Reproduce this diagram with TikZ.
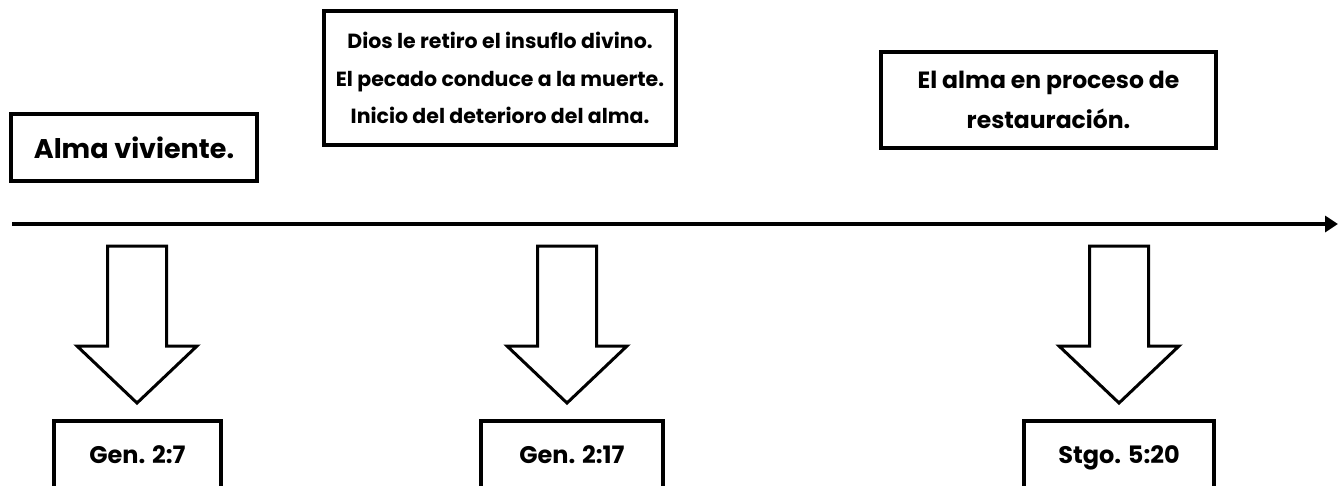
\documentclass[tikz,border=0pt]{standalone}
\usepackage{fontspec}
\setmainfont{Poppins}
\usetikzlibrary{arrows.meta}
\begin{document}
\begin{tikzpicture}[x=1pt,y=-1pt,
  box/.style={draw, line width=4pt, align=center, inner sep=0pt},
  refbox/.style={draw, line width=4pt, align=center, inner sep=0pt, anchor=north,
    font=\bfseries\fontsize{24}{30}\selectfont, text height=42pt, text depth=60pt},
  blockarrow/.style={draw, line width=3pt, fill=white, line join=miter},
  timeline/.style={line width=4.5pt, -{Triangle[length=13pt,width=16pt]}}]
\useasboundingbox (0,0) rectangle (1338,485);
\clip (0,0) rectangle (1338,485);

% top boxes
\node[box, minimum width=246pt, minimum height=67pt,
  font=\bfseries\fontsize{27}{30}\selectfont] (alma) at (134,147.5) {Alma viviente.};
\node[box, minimum width=352pt, minimum height=134pt,
  font=\bfseries\fontsize{20.5}{37.5}\selectfont] (pecado) at (500,78)
  {Dios le retiro el insuflo divino.\\El pecado conduce a la muerte.\\Inicio del deterioro del alma.};
\node[box, minimum width=335pt, minimum height=96pt,
  font=\bfseries\fontsize{23.5}{40}\selectfont] (restaura) at (1048.5,100)
  {El alma en proceso de\\restauración.};

% timeline
\coordinate (t0) at (12,224);
\coordinate (t1) at (1338,224);
\draw[timeline] (t0) -- (t1);

% block arrows
\foreach \cx/\nm in {137/a, 567/b, 1119/c}{
  \draw[blockarrow] (\cx-29.5,246) -- (\cx+29.5,246) -- (\cx+29.5,346) -- (\cx+60,346)
    -- (\cx,403) -- (\cx-60,346) -- (\cx-29.5,346) -- cycle;
}

% reference boxes
\node[refbox, minimum width=167pt] (gen7) at (137.5,419) {Gen. 2:7};
\node[refbox, minimum width=182pt] (gen17) at (572,419) {Gen. 2:17};
\node[refbox, minimum width=190pt] (stgo) at (1119,419) {Stgo. 5:20};
\end{tikzpicture}
\end{document}
